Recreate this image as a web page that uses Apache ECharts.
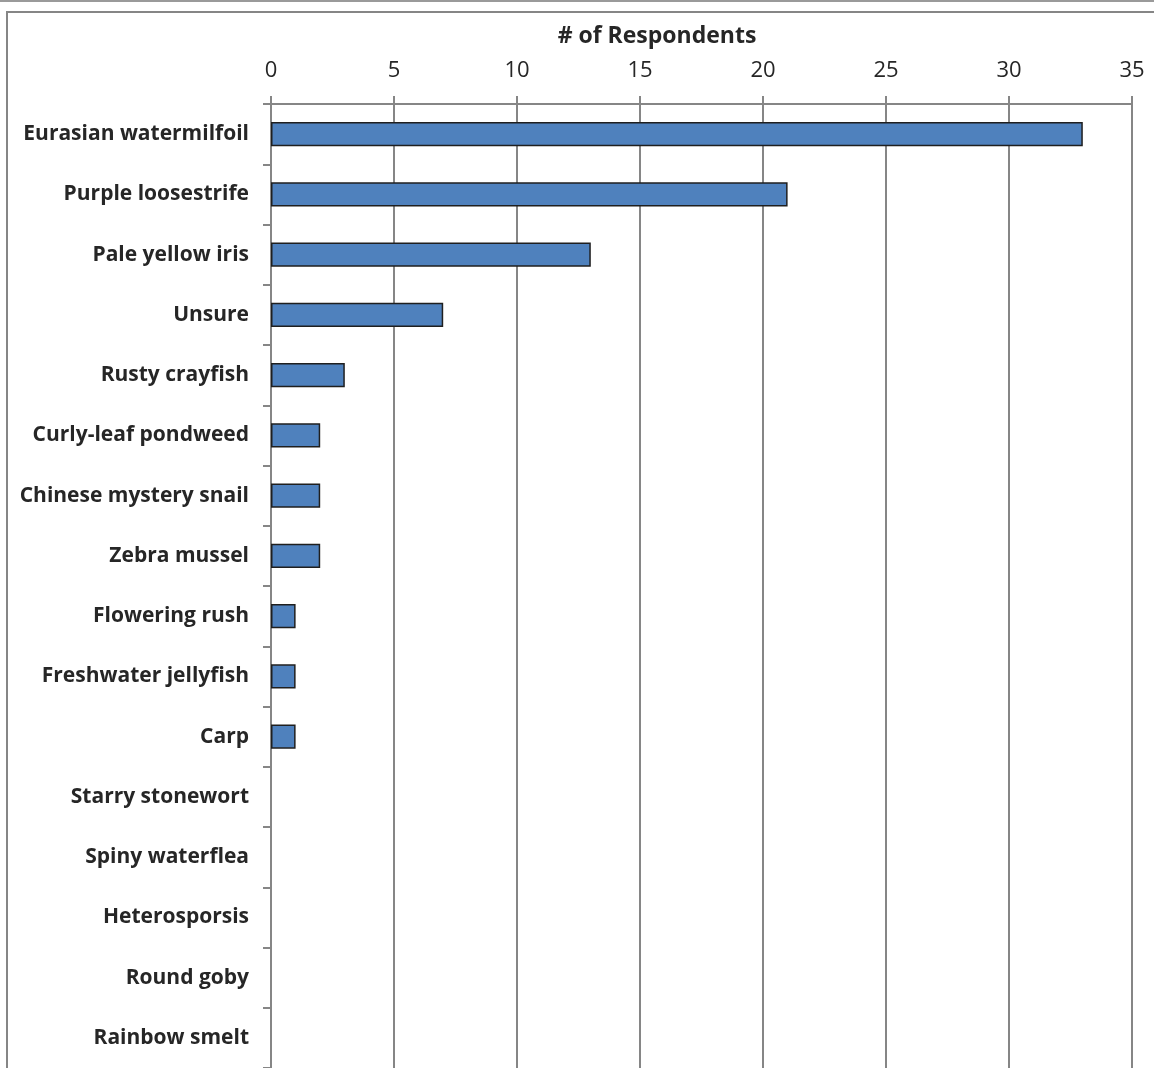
<!DOCTYPE html>
<html><head><meta charset="utf-8">
<script src="https://cdn.jsdelivr.net/npm/echarts@6/dist/echarts.min.js"></script>
<style>html,body{margin:0;padding:0;background:#fff}#c{width:1154px;height:1068px}</style>
</head><body><div id="c"></div>
<script>
const categories = ["Eurasian watermilfoil","Purple loosestrife","Pale yellow iris","Unsure","Rusty crayfish","Curly-leaf pondweed","Chinese mystery snail","Zebra mussel","Flowering rush","Freshwater jellyfish","Carp","Starry stonewort","Spiny waterflea","Heterosporsis","Round goby","Rainbow smelt"];
const respondents = [33,21,13,7,3,2,2,2,1,1,1,0,0,0,0,0];
const axisTitle = "# of Respondents";

const chart = echarts.init(document.getElementById('c'), null, {renderer:'canvas'});
const font = "'Open Sans', 'Noto Sans', sans-serif";
chart.setOption({
  animation:false,
  backgroundColor:'#fff',
  title:{text:axisTitle,left:652,top:20,textAlign:'center',
    textStyle:{fontFamily:font,fontSize:23,fontWeight:'bold',color:'#262626'}},
  grid:{left:271,right:22,top:104,height:968,containLabel:false},
  xAxis:{type:'value',position:'top',min:0,max:35,interval:5,
    axisLine:{show:true,lineStyle:{color:'#868686',width:2}},
    axisTick:{show:true,length:8,lineStyle:{color:'#868686',width:2}},
    splitLine:{show:true,lineStyle:{color:'#868686',width:2}},
    axisLabel:{fontFamily:font,fontSize:22,color:'#262626',margin:22}},
  yAxis:{type:'category',data:categories,inverse:true,
    axisLine:{show:true,lineStyle:{color:'#868686',width:2}},
    axisTick:{show:true,length:8,lineStyle:{color:'#868686',width:2}},
    axisLabel:{fontFamily:font,fontSize:21,fontWeight:'bold',color:'#262626',margin:22,padding:[4,0,0,0]}},
  series:[{type:'bar',barWidth:'40%',
    data:respondents.map(v => v === 0 ? {value:v,itemStyle:{borderWidth:0}} : v),
    itemStyle:{color:'#4F81BD',borderColor:'#1f1f1f',borderWidth:1.5}}],
  graphic:[
    {type:'line',shape:{x1:0,y1:1,x2:1154,y2:1},style:{stroke:'#9a9a9a',lineWidth:2}},
    {type:'polyline',shape:{points:[[7,1068],[7,12],[1154,12]]},style:{stroke:'#868686',lineWidth:2,fill:null}}
  ]
});
</script></body></html>
